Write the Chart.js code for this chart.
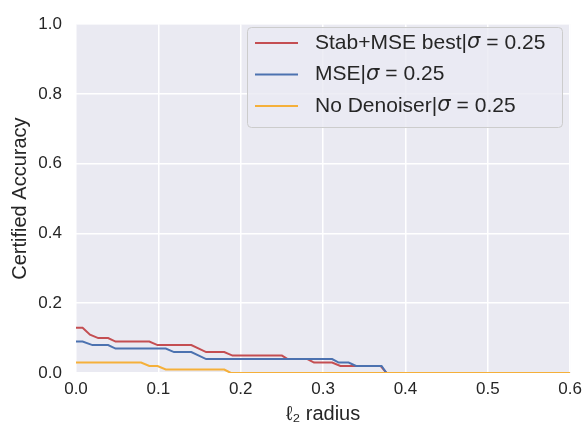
<!DOCTYPE html>
<html>
<head>
<meta charset="utf-8">
<script src="https://cdn.jsdelivr.net/npm/chart.js@4.4.1/dist/chart.umd.min.js"></script>
<style>
  html, body { margin: 0; padding: 0; background: #fff; }
  #wrap { width: 588px; height: 426px; }
</style>
</head>
<body>
<div id="wrap"><canvas id="certctr" width="588" height="426"></canvas></div>
<script>
// data
const labels = ['Stab+MSE best', 'MSE', 'No Denoiser'];
const sigmaText = '0.25';

const stabRadius = [0, 0.008, 0.017, 0.027, 0.039, 0.048, 0.089, 0.099, 0.14, 0.158, 0.18, 0.19, 0.25, 0.257, 0.281, 0.289, 0.311, 0.321, 0.37, 0.377, 0.6];
const stabAcc    = [0.13, 0.13, 0.11, 0.10, 0.10, 0.09, 0.09, 0.08, 0.08, 0.06, 0.06, 0.05, 0.05, 0.04, 0.04, 0.03, 0.03, 0.02, 0.02, 0, 0];

const mseRadius = [0, 0.008, 0.02, 0.039, 0.048, 0.109, 0.119, 0.14, 0.158, 0.311, 0.319, 0.331, 0.34, 0.371, 0.377, 0.6];
const mseAcc    = [0.09, 0.09, 0.08, 0.08, 0.07, 0.07, 0.06, 0.06, 0.04, 0.04, 0.03, 0.03, 0.02, 0.02, 0, 0];

const noneRadius = [0, 0.079, 0.089, 0.099, 0.109, 0.18, 0.188, 0.6];
const noneAcc    = [0.03, 0.03, 0.02, 0.02, 0.01, 0.01, 0, 0];

const xTicks = [0, 0.1, 0.2, 0.3, 0.4, 0.5, 0.6];
const yTicks = [0, 0.2, 0.4, 0.6, 0.8, 1.0];

const colors = ['#C44E52', '#4C72B0', '#F5B03A'];
const FONT = '"Liberation Sans", Arial, sans-serif';
const TXT = '#262626';

function pts(xs, ys) {
  return xs.map((x, i) => ({ x: x, y: ys[i] }));
}

// grey plot background like seaborn darkgrid
const bgPlugin = {
  id: 'bg',
  beforeDraw(chart) {
    const a = chart.chartArea, ctx = chart.ctx;
    ctx.save();
    ctx.fillStyle = '#EAEAF2';
    ctx.fillRect(a.left, a.top, a.right - a.left, a.bottom - a.top);
    ctx.restore();
  }
};

// legend box inside the axes, top right
const legendPlugin = {
  id: 'innerLegend',
  afterDatasetsDraw(chart) {
    const ctx = chart.ctx;
    const bx = 247, by = 27, bw = 315, bh = 100, r = 4;
    ctx.save();
    ctx.beginPath();
    ctx.roundRect(bx + 0.5, by + 0.5, bw, bh, r);
    ctx.fillStyle = 'rgba(234,234,242,0.8)';
    ctx.fill();
    ctx.strokeStyle = '#CCCCCC';
    ctx.lineWidth = 1;
    ctx.stroke();
    const rowY = [43, 74.5, 106];
    labels.forEach((lab, i) => {
      const y = rowY[i];
      ctx.strokeStyle = colors[i];
      ctx.lineWidth = 2;
      ctx.beginPath();
      ctx.moveTo(255, y);
      ctx.lineTo(298, y);
      ctx.stroke();
      ctx.fillStyle = TXT;
      ctx.textBaseline = 'middle';
      let x = 315;
      ctx.font = '21px ' + FONT;
      const t1 = lab + '|';
      ctx.fillText(t1, x, y);
      x += ctx.measureText(t1).width;
      ctx.font = 'italic 21px "DejaVu Sans"';
      ctx.fillText('σ', x, y);
      x += ctx.measureText('σ').width + 6;
      ctx.font = '21px ' + FONT;
      ctx.fillText('=', x, y);
      x += ctx.measureText('=').width + 6;
      ctx.fillText(sigmaText, x, y);
    });
    ctx.restore();
  }
};

const ctxCert = document.getElementById('certctr').getContext('2d');
const certChart = new Chart(ctxCert, {
  type: 'line',
  data: {
    datasets: [
      { label: labels[0], data: pts(stabRadius, stabAcc), borderColor: colors[0], order: 3 },
      { label: labels[1], data: pts(mseRadius, mseAcc), borderColor: colors[1], order: 2 },
      { label: labels[2], data: pts(noneRadius, noneAcc), borderColor: colors[2], order: 1 }
    ]
  },
  options: {
    responsive: false,
    animation: false,
    layout: { padding: { top: 16, right: 16, left: 0, bottom: 0 } },
    elements: {
      line: { borderWidth: 2, tension: 0, fill: false },
      point: { radius: 0 }
    },
    datasets: { line: { clip: 0 } },
    plugins: {
      legend: { display: false },
      tooltip: { enabled: false }
    },
    scales: {
      x: {
        type: 'linear',
        min: 0,
        max: 0.6,
        afterBuildTicks: (s) => { s.ticks = xTicks.map(v => ({ value: v })); },
        afterFit: (s) => { s.height = 53; },
        grid: { color: '#FFFFFF', lineWidth: 1.5, drawTicks: false },
        border: { display: false },
        ticks: {
          padding: 6,
          color: TXT,
          font: { family: FONT, size: 17 },
          maxRotation: 0,
          callback: (v) => v.toFixed(1)
        },
        title: {
          display: true,
          text: 'ℓ₂ radius',
          color: TXT,
          font: { family: FONT, size: 20 },
          padding: { top: 0, bottom: 0 }
        }
      },
      y: {
        min: 0,
        max: 1.0,
        afterBuildTicks: (s) => { s.ticks = yTicks.map(v => ({ value: v })); },
        afterFit: (s) => { s.width = 76; },
        grid: { color: '#FFFFFF', lineWidth: 1.5, drawTicks: false },
        border: { display: false },
        ticks: {
          padding: 14,
          color: TXT,
          font: { family: FONT, size: 17 },
          callback: (v) => v.toFixed(1)
        },
        title: {
          display: true,
          text: 'Certified Accuracy',
          color: TXT,
          font: { family: FONT, size: 20 },
          padding: { top: 8, bottom: 0 }
        }
      }
    }
  },
  plugins: [bgPlugin, legendPlugin]
});
</script>
</body>
</html>
